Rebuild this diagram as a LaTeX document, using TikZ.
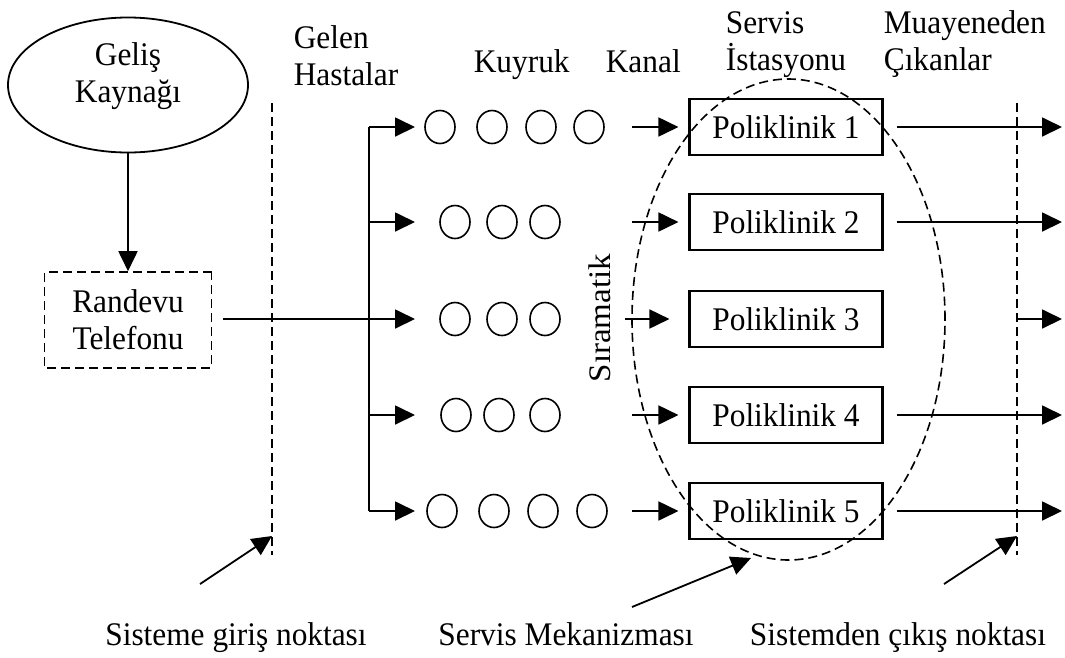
\documentclass[tikz,border=0pt]{standalone}
\usepackage{fontspec}
\setmainfont{Liberation Serif}
\usetikzlibrary{arrows.meta,shapes.geometric}
\begin{document}
\begin{tikzpicture}[x=1pt,y=-1pt,
  line width=1.8pt,
  every node/.style={font=\fontsize{33}{37}\selectfont, inner sep=0pt},
  narrow/.style={xscale=0.95},
  tip/.style={-{Triangle[length=20pt,width=19pt]}},
  guide/.style={dash pattern=on 9pt off 5pt, line width=1.6pt},
  clinic/.style={draw, narrow, line width=2.2pt, minimum width=203.2pt, minimum height=56pt},
  patient/.style={draw, ellipse, line width=1.6pt, minimum width=30pt, minimum height=33pt},
  lbl/.style={narrow, anchor=base west, align=left}]
\useasboundingbox (0,0) rectangle (1065,657);

% arrival source and appointment line (multi-line nodes sit on their last baseline)
\node[draw, ellipse, minimum width=240pt, minimum height=135pt] (src) at (128,85) {};
\node[narrow, anchor=base, align=center] (srct) at (128,102) {Geliş\\Kaynağı};
\node[draw, guide, narrow, minimum width=175.8pt, minimum height=96pt, align=center] (ran) at (128,320) {Randevu\\Telefonu};
\draw[tip] (src.south) -- (ran.north);

% column headings
\node[lbl] (gelen) at (293,85) {Gelen\\Hastalar};
\node[lbl] (kuy) at (473,72) {Kuyruk};
\node[lbl] (kan) at (605,72) {Kanal};
\node[lbl] (ist) at (725,70) {Servis\\İstasyonu};
\node[lbl] (cik) at (883,70) {Muayeneden\\Çıkanlar};

% entry and exit boundaries
\coordinate (in1) at (272,103);
\coordinate (in2) at (272,555);
\coordinate (ex1) at (1017,103);
\coordinate (ex2) at (1017,555);
\draw[guide] (in1) -- (in2);
\draw[guide] (ex1) -- (ex2);

% distribution bracket
\coordinate (j1) at (369,127);
\coordinate (j2) at (369,222);
\coordinate (j4) at (369,415);
\coordinate (j5) at (369,511);
\draw (j1) -- (j5);
\coordinate (t1) at (415,127);
\coordinate (t2) at (415,222);
\coordinate (t3) at (415,319);
\coordinate (t4) at (415,415);
\coordinate (t5) at (415,511);
\draw[tip] (j1) -- (t1);
\draw[tip] (j2) -- (t2);
\draw[tip] (j4) -- (t4);
\draw[tip] (j5) -- (t5);
\draw[tip] ([xshift=11pt]ran.east |- t3) -- (t3);

% queues
\foreach \x [count=\i] in {440,492,541,589} \node[patient] (qa\i) at (\x,127) {};
\foreach \x [count=\i] in {455,502,545} \node[patient] (qb\i) at (\x,222) {};
\foreach \x [count=\i] in {455,502,545} \node[patient] (qc\i) at (\x,319) {};
\foreach \x [count=\i] in {456,499,545} \node[patient] (qd\i) at (\x,415) {};
\foreach \x [count=\i] in {442,494,543,592} \node[patient] (qe\i) at (\x,511) {};

% service stations
\node[clinic] (p1) at (786,127) {Poliklinik 1};
\node[clinic] (p2) at (786,222) {Poliklinik 2};
\node[clinic] (p3) at (786,319) {Poliklinik 3};
\node[clinic] (p4) at (786,415) {Poliklinik 4};
\node[clinic] (p5) at (786,511) {Poliklinik 5};

% channels into the stations
\coordinate (k1) at (632,127);
\coordinate (k2) at (632,222);
\coordinate (k3) at (625,319);
\coordinate (k4) at (632,415);
\coordinate (k5) at (632,511);
\draw[tip, shorten >=10pt] (k1) -- (p1);
\draw[tip, shorten >=10pt] (k2) -- (p2);
\draw[tip, shorten >=19pt] (k3) -- (p3);
\draw[tip, shorten >=10pt] (k4) -- (p4);
\draw[tip, shorten >=10pt] (k5) -- (p5);

% departures
\coordinate (o1) at (1062,127);
\coordinate (o2) at (1062,222);
\coordinate (o3) at (1062,319);
\coordinate (o4) at (1062,415);
\coordinate (o5) at (1062,511);
\coordinate (e3) at (1017,319);
\draw[tip, shorten <=13pt] (p1) -- (o1);
\draw[tip, shorten <=13pt] (p2) -- (o2);
\draw[tip] (e3) -- (o3);
\draw[tip, shorten <=13pt] (p4) -- (o4);
\draw[tip, shorten <=13pt] (p5) -- (o5);

% service mechanism
\node[draw, ellipse, guide, minimum width=313pt, minimum height=481pt] (mech) at (788.5,319.5) {};
\node (sira) at (600,318) {\scalebox{0.95}[1]{\rotatebox{90}{Sıramatik}}};

% captions with pointers
\node[narrow, anchor=base] (lin) at (236,645) {Sisteme giriş noktası};
\node[narrow, anchor=base] (lmech) at (566,645) {Servis Mekanizması};
\node[narrow, anchor=base] (lout) at (898,645) {Sistemden çıkış noktası};
\coordinate (a1) at (200,584);
\coordinate (h1) at (272,536);
\coordinate (a2) at (632,607);
\coordinate (h2) at (751,558);
\coordinate (a3) at (944,584);
\coordinate (h3) at (1017,536);
\draw[tip] (a1) -- (h1);
\draw[tip] (a2) -- (h2);
\draw[tip] (a3) -- (h3);
\end{tikzpicture}
\end{document}
